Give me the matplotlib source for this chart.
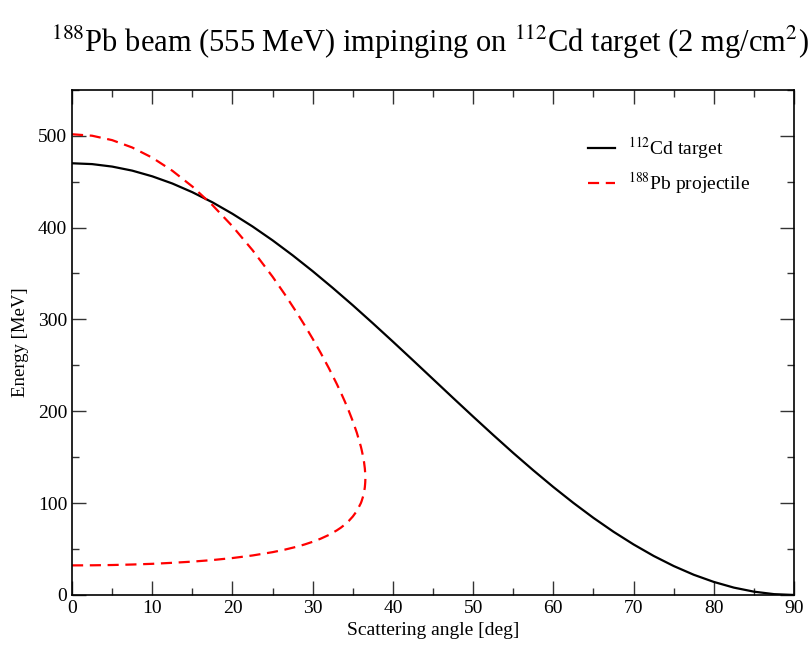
import matplotlib
matplotlib.use("Agg")
import matplotlib.pyplot as plt
from matplotlib.ticker import MultipleLocator

plt.rcParams['font.family'] = ['Liberation Serif', 'DejaVu Serif']
plt.rcParams['mathtext.fontset'] = 'stix'

# 112Cd target (recoil) energy vs scattering angle
cd_angle = [0, 2.5, 5, 7.5, 10, 12.5, 15, 17.5, 20, 22.5, 25, 27.5, 30, 32.5, 35,
            37.5, 40, 42.5, 45, 47.5, 50, 52.5, 55, 57.5, 60, 62.5, 65, 67.5, 70,
            72.5, 75, 77.5, 80, 82.5, 85, 87.5, 90]
cd_energy = [470, 469.1, 466.4, 462.0, 455.8, 448.0, 438.5, 427.5, 415.0, 401.2,
             386.1, 369.8, 352.5, 334.3, 315.4, 295.8, 275.8, 255.5, 235.0, 214.5,
             194.2, 174.2, 154.6, 135.7, 117.5, 100.2, 83.9, 68.8, 55.0, 42.5,
             31.5, 22.0, 14.2, 8.0, 3.6, 0.9, 0]

# 188Pb projectile: upper branch out to max angle, then lower branch back to 0
pb_angle = [0, 2.5, 5, 7.5, 10, 12.5, 15, 17.5, 20, 22.5, 25, 26.5, 28, 29, 30,
            31, 32, 33, 33.5, 34, 34.5, 35, 35.5, 36, 36.1, 36.3, 36.4, 36.5,
            36.55, 36.57,
            36.55, 36.5, 36.4, 36.3, 36.1, 36, 35.5, 35, 34.5, 34, 33.5, 33, 32,
            31, 30, 29, 28, 26.5, 25, 22.5, 20, 17.5, 15, 12.5, 10, 7.5, 5, 2.5, 0]
pb_energy = [501.6, 500.0, 495.2, 487.2, 476.1, 461.9, 444.7, 424.5, 401.4, 375.4,
             346.5, 327.6, 307.6, 293.6, 278.9, 263.5, 247.2, 229.8, 220.5, 210.8,
             200.4, 189.2, 176.7, 161.7, 158.1, 149.9, 144.7, 137.8, 131.9, 127.1,
             122.5, 117.2, 111.6, 107.8, 102.2, 99.9, 91.4, 85.4, 80.6, 76.6, 73.2,
             70.3, 65.3, 61.3, 57.9, 55.0, 52.5, 49.3, 46.6, 43.0, 40.2, 38.0,
             36.3, 35.0, 33.9, 33.15, 32.6, 32.3, 32.2]

fig = plt.figure(figsize=(8.1, 6.46), dpi=100)
ax = fig.add_axes([0.0889, 0.079, 0.8914, 0.782])

ax.plot(cd_angle, cd_energy, color='black', lw=1.6, label=r'$^{112}$Cd target')
ax.plot(pb_angle, pb_energy, color='red', lw=1.6, dashes=(5, 3),
        label=r'$^{188}$Pb projectile')

ax.set_xlim(0, 90)
ax.set_ylim(0, 550)
ax.xaxis.set_major_locator(MultipleLocator(10))
ax.xaxis.set_minor_locator(MultipleLocator(5))
ax.yaxis.set_major_locator(MultipleLocator(100))
ax.yaxis.set_minor_locator(MultipleLocator(50))
ax.tick_params(which='both', direction='in', top=True, right=True, labelsize=14,
               color='#333333')
ax.tick_params(which='major', length=10, width=1)
ax.tick_params(which='minor', length=5, width=1)
for sp in ax.spines.values():
    sp.set_linewidth(1.2)

ax.set_xlabel('Scattering angle [deg]', fontsize=14, labelpad=4)
ax.set_ylabel('Energy [MeV]', fontsize=13.5, labelpad=6)
fig.text(0.531, 0.92,
         r'$^{188}$Pb beam (555 MeV) impinging on $^{112}$Cd target (2 mg/cm$^{2}$)',
         ha='center', va='baseline', fontsize=22)

ax.legend(loc='upper left', bbox_to_anchor=(0.715, 0.91), frameon=False,
          fontsize=14, handlelength=1.35, handletextpad=0.7, labelspacing=0.45,
          borderpad=0, borderaxespad=0)

fig.savefig('out.png', dpi=100)
